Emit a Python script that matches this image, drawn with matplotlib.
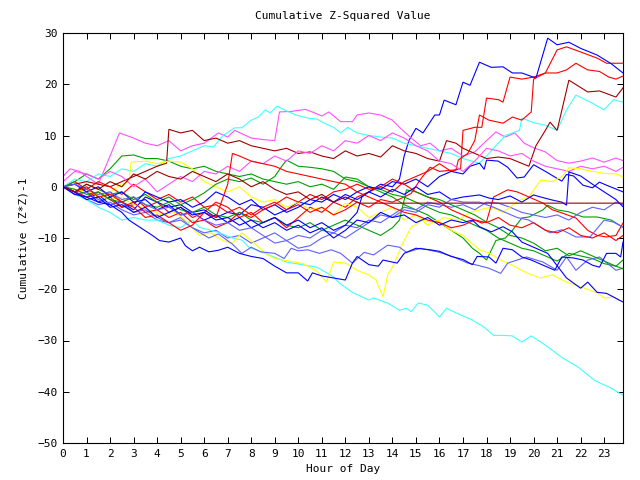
import matplotlib
matplotlib.use("Agg")
import matplotlib.pyplot as plt

# values: (hour, cumulative (z*z)-1)
blue_top = [(0, 0), (0.5, -1), (1, -2), (1.5, -1.5), (2, -3.5), (2.5, -3), (3, -4.5), (3.5, -2), (4, -3), (4.5, -4),
            (5, -3.5), (5.5, -5), (6, -4.5), (6.5, -6), (7, -5), (7.5, -5.5), (8, -3.5), (8.5, -4), (9, -5.5),
            (9.5, -4.5), (10, -3), (10.5, -3.5), (11, -2), (11.5, -3), (12, -1.5), (12.5, -2.5), (13, -1),
            (13.5, 0.5), (14, 0), (14.3, 1.5), (14.5, 6), (14.7, 9), (15, 11.4), (15.3, 10.5), (15.8, 14), (16, 14),
            (16.2, 16.9), (16.7, 16), (17, 20.4), (17.3, 19.8), (17.7, 24.3), (18.2, 23.3), (18.7, 23.4),
            (19.1, 22.2), (19.5, 22.2), (20.1, 21.2), (20.6, 29), (21, 27.7), (21.5, 28.2), (22, 27), (22.7, 25.7),
            (23.3, 24), (23.8, 22.2)]
blue_mid = [(0, 0), (0.5, -1.5), (1, -1), (1.5, -3), (2, -2), (2.5, -4), (3, -3.5), (3.5, -1), (4, -2), (4.5, -3),
            (5, -2.5), (5.5, -4), (6, -3), (6.5, -1), (7, -2), (7.5, -3.5), (8, -2.5), (8.5, -4.5), (9, -3.5),
            (9.5, -5), (10, -4), (10.5, -2.5), (11, -3), (11.5, -1.5), (12, -2.5), (12.5, -1), (13, 0), (13.5, -0.5),
            (14, 1), (14.5, 0.5), (15, 1.5), (15.5, 0), (16, 2), (16.5, 3), (17, 2.5), (17.3, 4), (17.7, 4.6),
            (17.9, 3.4), (18, 5.2), (18.5, 5), (18.9, 3.8), (19.3, 1.7), (19.6, 1.9), (20, 4.3), (20.5, 3),
            (20.9, 1.9), (21.2, 1.1), (21.4, 2.4), (21.7, 2.1), (22.1, 0.3), (22.5, -0.2), (22.8, 0.9), (23.1, 0.3),
            (23.8, -1)]
blue_jump = [(0, 0), (0.5, 0.5), (1, -1), (1.5, 0), (2, -2), (2.5, -1), (3, -3), (3.5, -2.5), (4, -4.5), (4.5, -3.5),
             (5, -5.5), (5.5, -5), (6, -6.5), (6.5, -5.5), (7, -7), (7.5, -6), (8, -8), (8.5, -7), (9, -6),
             (9.5, -7.5), (10, -6.5), (10.5, -8), (11, -7), (11.5, -8.5), (12, -7.5), (12.5, -5), (12.7, -2),
             (13, -1), (13.5, -2), (14, -0.5), (14.5, -1.5), (15, 0), (15.5, -1.5), (16, -1), (16.5, -2.5), (17, -2),
             (17.7, -1.6), (18.1, -2.2), (18.5, -2.5), (19, -1.8), (19.5, -3), (20, -1.6), (20.3, -2), (20.8, -2.6),
             (21.2, -3), (21.4, -3.6), (21.5, 2.9), (22, 2.1), (22.5, 0.5), (23, -1), (23.5, -2.5), (23.8, -3.9)]
blue_low = [(0, 0), (0.5, -1.5), (1, -2), (1.5, -3), (2, -3.5), (2.5, -5), (2.8, -6.5), (3.3, -8), (3.8, -9.5),
            (4.1, -10.5), (4.5, -10.8), (5, -10), (5.2, -11.5), (5.5, -12.5), (5.8, -11.8), (6.2, -12.7),
            (6.6, -12.4), (7, -11.8), (7.5, -13), (8, -13.6), (8.5, -14), (9, -15.5), (9.5, -16.8), (10, -16.8),
            (10.4, -18.4), (10.6, -16.8), (11, -17.4), (11.5, -17.8), (12, -18.2), (12.3, -14.9), (12.5, -13.6),
            (13, -15.2), (13.4, -15.5), (13.6, -14.3), (14.2, -14.9), (14.5, -13), (15, -12), (15.6, -12.3),
            (16, -12.6), (16.5, -13.6), (17, -14.2), (17.4, -15.2), (17.6, -13.6), (18.1, -13.7), (18.4, -14.9),
            (18.7, -12), (19.1, -12.3), (19.5, -13.7), (19.9, -14.3), (20.9, -16.3), (21.2, -13.7), (21.7, -13.9),
            (22.1, -14.3), (22.5, -15.3), (22.8, -15.7), (23.1, -13), (23.5, -13), (23.7, -13.7), (23.8, -10.8)]
blue_bottom = [(0, 0), (0.5, -1), (1, -2.5), (1.5, -2), (2, -4), (2.5, -3.5), (3, -5), (3.5, -4), (4, -6), (4.5, -5),
               (5, -4), (5.5, -5.5), (6, -5), (6.5, -6.5), (7, -6), (7.5, -7.5), (8, -6.5), (8.5, -8), (9, -7),
               (9.5, -8.5), (10, -7.5), (10.5, -9), (11, -8), (11.5, -10), (12, -8.5), (12.5, -6.5), (13, -7),
               (13.5, -5), (14, -6), (14.5, -5.5), (15, -7), (15.5, -6), (16, -7.5), (16.5, -6.5), (17, -7),
               (17.4, -6.5), (17.7, -7.8), (18.2, -8.8), (18.7, -7.8), (19.1, -8.8), (19.5, -10.8), (20.6, -13),
               (21.4, -17.8), (22, -19.8), (22.3, -18.6), (22.7, -20.6), (23.1, -20.8), (23.8, -22.5)]
lblue_a = [(0, 0), (0.5, -1), (1, -2.5), (1.5, -3.5), (2, -3), (2.5, -4.5), (3, -5.5), (3.5, -5), (4, -6.5), (4.5, -7),
           (5, -6), (5.5, -8), (6, -9), (6.5, -8.5), (7, -10), (7.5, -9.5), (8, -11), (8.5, -10), (9, -9),
           (9.5, -10.5), (10, -9.5), (10.5, -10), (11, -8.5), (11.5, -9), (12, -7.5), (12.5, -8), (13, -6.5),
           (13.5, -7), (14, -5.5), (14.5, -4), (15, -4.5), (15.5, -3), (16, -3.5), (16.5, -4), (17, -3.5),
           (17.5, -4.5), (18, -3), (18.5, -3.2), (19, -4), (19.5, -5), (20, -5.5), (20.5, -6), (21, -5.5),
           (21.5, -6.5), (22, -5), (22.5, -4), (23, -4.5), (23.5, -3), (23.8, -3.5)]
lblue_b = [(0, 0), (0.5, -1.5), (1, -1), (1.5, -2.5), (2, -3.5), (2.5, -3), (3, -5), (3.5, -4.5), (4, -6), (4.5, -7),
           (5, -6.5), (5.5, -8), (5.8, -8.9), (6.2, -10), (6.6, -9.2), (7.2, -11.2), (7.6, -13), (8, -11.8),
           (8.4, -12.7), (9, -13), (9.4, -14), (9.7, -12), (10, -12.5), (10.4, -12.3), (10.9, -13), (11.4, -12.3),
           (11.8, -13), (12.3, -14.9), (12.8, -12.8), (13.2, -13.3), (13.8, -11.4), (14.3, -11.8), (14.6, -12.8),
           (15.2, -12), (15.5, -12.3), (16, -12.8), (16.6, -13.7), (17.2, -14.9), (17.6, -15.3), (18.1, -15.9),
           (18.6, -16.9), (18.9, -14.9), (19.7, -13.7), (20.4, -14.7), (21, -16.3), (21.4, -13.7), (21.8, -16.3),
           (22.3, -14.3), (22.8, -13.7), (23.5, -16.3), (23.8, -15.9)]
lblue_c = [(0, 0), (0.5, 0.5), (1, -0.5), (1.5, -1.5), (2, -1), (2.5, -2.5), (3, -2), (3.5, -3.5), (4, -4.5), (4.5, -4),
           (5, -5.5), (5.5, -5), (6, -6.5), (6.5, -7.5), (7, -7), (7.5, -8.5), (8, -8), (8.5, -9.5), (9, -11),
           (9.5, -10.5), (10, -12), (10.5, -11.5), (11, -10), (11.5, -9), (12, -10), (12.5, -8.5), (13, -7),
           (13.5, -5.5), (14, -6), (14.5, -4.5), (15, -5), (15.5, -3.5), (16, -4), (16.5, -2.5), (17, -3),
           (17.7, -3), (18.3, -4), (18.8, -5), (19.3, -6), (19.8, -6.5), (20.7, -9), (21.2, -8.4), (21.8, -9.8),
           (22.4, -9.8), (23, -6.5), (23.4, -6.9), (23.8, -7.9)]
red_top = [(0, 0), (0.5, 1), (1, -0.5), (1.5, -2), (2, -1), (2.5, -3), (3, -2), (3.5, -4), (4, -3), (4.5, -5), (5, -4),
           (5.5, -6), (6, -5), (6.5, -3), (7, -4), (7.5, -6), (8, -5), (8.5, -7), (9, -6), (9.5, -8), (10, -6),
           (10.5, -4), (11, -5), (11.5, -3), (12, -4), (12.5, -2), (13, -1), (13.5, 0), (14, -1), (14.5, 1), (15, 2),
           (15.5, 3), (16, 4.5), (16.5, 3), (16.9, 3.6), (17, 11), (17.5, 11.6), (17.8, 11.6), (18, 17.3),
           (18.5, 17), (18.7, 16.5), (19, 21.4), (19.5, 21), (20, 21.4), (20.5, 22.2), (21, 26.7), (21.4, 27.3),
           (22, 26.3), (22.7, 25.1), (23.1, 24.1), (23.8, 24.1)]
red_second = [(0, 0), (0.5, -1), (1, -0.5), (1.5, 1), (2, 0), (2.5, -1.5), (3, 0.5), (3.5, -1), (4, -2.5),
              (4.5, -1.5), (5, -3), (5.5, -2), (6, -4), (6.5, -3.5), (7, -5), (7.5, -4), (8, -5.5), (8.5, -4),
              (9, -3), (9.5, -4.5), (10, -3.5), (10.5, -5), (11, -4), (11.5, -5.5), (12, -4.5), (12.5, -3), (13, -4),
              (13.5, -2.5), (14, -3), (14.5, -2), (14.8, -1.3), (15.2, 1.5), (15.6, 3.8), (16, 3), (16.7, 3.3),
              (16.8, 5.2), (17.2, 6.5), (17.5, 9), (17.7, 14), (18.1, 13), (18.7, 12.4), (19.1, 13.6), (19.5, 13),
              (19.9, 14.6), (20, 21), (20.5, 22.2), (21, 22.2), (21.4, 22.8), (21.8, 24.1), (22.3, 22.8),
              (22.8, 22.5), (23.2, 21.4), (23.5, 21), (23.8, 21.6)]
red_u = [(0, 0), (0.5, -1), (1, -2), (1.5, -1), (2, -2.5), (2.5, -4), (3, -3), (3.5, -5), (4, -4.5), (4.5, -6),
         (5, -5), (5.5, -7), (6, -6.5), (6.5, -8), (7, -7), (7.5, -5), (8, -6), (8.5, -4.5), (9, -3.5), (9.5, -2),
         (10, -3), (10.5, -1.5), (11, -2.5), (11.5, -1), (12, -0.5), (12.5, 0.5), (13, -0.5), (13.5, 0), (14, 1.5),
         (14.5, 0.5), (15, -1), (15.5, -2), (16, -3), (16.5, -4.5), (17, -5.5), (17.5, -6.5), (17.8, -7.1),
         (18, -6.8), (18.3, -2), (18.9, -0.6), (19.3, -1), (19.8, -2), (20.4, -3.2), (20.8, -4.5), (21.2, -5.1),
         (21.8, -6.1), (22.3, -8.5), (22.7, -9.5), (23.1, -9.8), (23.5, -9.5), (23.7, -7.9), (23.8, -7.1)]
red_jump = [(0, 0), (0.5, -1), (1, 0), (1.5, -2), (2, -1.5), (2.5, -3), (3, -4), (3.5, -6), (4, -5.5), (4.5, -7),
            (5, -8.5), (5.5, -7.5), (6, -5), (6.5, -6), (7, 0.5), (7.2, 6.5), (7.5, 6), (8, 5), (8.5, 4.5), (9, 4),
            (9.5, 3), (10, 2.5), (10.5, 2), (11, 1.5), (11.5, 1), (12, 0.5), (12.5, -1), (13, -2), (13.5, -3),
            (14, -4), (14.5, -5), (15, -5.5), (15.5, -6.5), (16, -7), (16.5, -8), (17, -7.5), (17.5, -6.5),
            (18, -7), (18.5, -6), (19, -7.5), (19.5, -8), (20, -7), (20.5, -8.5), (21, -9), (21.5, -8),
            (22, -9.5), (22.5, -10), (23, -9), (23.5, -10.5), (23.8, -9.5)]
dred_top = [(0, 0), (1, 1), (2, 0), (3, 2), (4, 4), (4.4, 4.6), (4.5, 11.2), (5, 10.5), (5.5, 11), (6, 9),
            (6.5, 9.5), (7, 8.5), (7.5, 9), (8, 8), (8.5, 7.5), (9, 7), (9.5, 7.5), (10, 6.5), (10.5, 6.8), (11, 6),
            (11.5, 5.5), (12, 7), (12.5, 6), (13, 6.5), (13.5, 5.8), (14, 8), (14.5, 7), (15, 6.5), (15.5, 5.5),
            (16, 5), (16.3, 9), (16.7, 8.5), (17, 7.5), (17.5, 6.5), (18, 5.5), (18.5, 5.8), (19, 5.5), (19.8, 4),
            (20.1, 8), (20.5, 11), (20.7, 12.6), (21, 11), (21.5, 20.8), (22.3, 18.5), (22.8, 18.7), (23.5, 17.5),
            (23.8, 19.3)]
dred_flat = [(0, 0), (0.5, -1), (1, 0.5), (1.5, -0.5), (2, 1), (2.5, 0), (3, 2.5), (3.5, 1.5), (4, 3), (4.5, 2),
             (5, 1.5), (5.5, 3), (6, 2), (6.5, 1), (7, 2.5), (7.5, 1.5), (8, 0), (8.5, 1), (9, -0.5), (9.5, -1.5),
             (10, -1), (10.5, -2.5), (11, -1.5), (11.5, -3), (12, -2), (12.6, -3.2), (23.8, -3.2)]
cyan_top = [(0, 0), (0.5, 1.5), (1, 1), (1.5, 2.5), (2, 2), (2.5, 3.5), (3, 3), (3.5, 4.5), (4, 4), (4.5, 5.5),
            (5, 6), (5.5, 7), (6, 8), (6.4, 7.8), (6.8, 10), (7.3, 11.5), (7.6, 11.5), (8, 13), (8.3, 13.6),
            (8.6, 15), (8.8, 14.4), (9.1, 15.7), (9.6, 14.6), (9.9, 14), (10.4, 13.4), (10.8, 13.2), (11.1, 12.4),
            (11.5, 11.6), (11.8, 10.5), (12.1, 11.6), (12.5, 10.5), (13, 10), (13.5, 9.7), (14, 9.5), (14.5, 8.5),
            (15, 8), (15.5, 7.5), (16, 7), (16.5, 6.5), (17, 5.5), (17.7, 4.6), (18.1, 6.5), (18.4, 8), (18.8, 10),
            (19.4, 11), (19.5, 13.4), (20, 12.5), (20.5, 12), (21, 11), (21.4, 15), (21.8, 17.9), (22.5, 16.3),
            (23, 15), (23.4, 17), (23.8, 16.5)]
cyan_down = [(0, 0), (0.5, -1.5), (1, -2.5), (1.5, -4), (2, -5), (2.5, -6.5), (3, -6), (3.5, -6.5), (4, -6.5),
             (4.5, -7.5), (5, -8), (5.3, -7), (5.5, -6.5), (5.8, -7.9), (6.6, -8.9), (7.2, -10), (7.6, -10.4),
             (7.9, -11.8), (8.6, -13), (9.5, -14.7), (10.8, -15.7), (11.5, -17.6), (11.75, -18.8), (12.3, -20.6),
             (13, -22.1), (13.2, -21.7), (13.8, -22.7), (14.3, -24.1), (14.6, -23.7), (14.8, -24.4), (15.1, -22.7),
             (15.5, -23.1), (16, -25.4), (16.3, -23.7), (16.7, -24.6), (17.4, -26), (17.9, -27.4), (18.3, -29),
             (18.7, -29), (19.1, -29.1), (19.5, -30.3), (19.9, -29.1), (20.5, -30.9), (21.2, -33.3), (21.9, -35.2),
             (22.6, -37.8), (23.3, -39.3), (23.8, -40.7)]
magenta_top = [(0, 2), (0.3, 3.5), (0.7, 3), (1, 2), (1.5, 0.5), (2, 6), (2.4, 10.5), (3, 9.5), (3.5, 8.5), (4, 8),
               (4.5, 9), (5, 7), (5.5, 8), (6, 8.5), (6.6, 10.5), (7, 9.7), (7.3, 11), (8, 9.5), (8.5, 9.2),
               (9, 9), (9.2, 14.6), (9.7, 14.7), (10.3, 15.1), (10.7, 14.4), (11, 13.8), (11.3, 14.6),
               (11.8, 12.7), (12.3, 12.7), (12.5, 14), (13, 14.4), (13.5, 14), (14, 13), (14.3, 11.6), (14.8, 9.5),
               (15.2, 8), (15.6, 8.5), (16, 7), (16.5, 7.5), (17, 6), (17.5, 6.8), (18, 9), (18.4, 10.7),
               (18.8, 9.7), (19.2, 10.5), (19.6, 8.5), (20, 7.6), (20.5, 6.8), (21, 5.1), (21.5, 4.6), (22, 5),
               (22.5, 5.6), (23, 4.8), (23.5, 5.6), (23.8, 5.1)]
magenta_low = [(0, 1), (0.5, 3), (1, 2.5), (1.5, 1.5), (2, 3), (2.5, 2), (3, 0), (3.5, 1.5), (4, -1), (4.5, 0.5),
               (5, 2), (5.5, 1), (6, 3), (6.5, 2.5), (7, 4), (7.5, 3), (8, 5), (8.5, 4.5), (9, 6), (9.5, 5), (10, 7),
               (10.5, 6.5), (11, 8), (11.5, 7), (12, 9), (12.5, 8.5), (13, 10), (13.5, 9), (14, 10.5), (14.5, 9.5),
               (15, 8), (15.5, 7), (16, 5), (16.5, 4.5), (17, 3), (17.5, 5), (18, 7.5), (18.5, 7), (19, 6),
               (19.5, 6.5), (20, 5), (20.5, 4), (21, 3.5), (21.5, 3), (22, 4), (22.5, 3.5), (23, 4), (23.5, 3),
               (23.8, 3.8)]
yellow_early = [(0, 0), (0.5, -1), (1, -0.5), (1.5, -2), (2, -1), (2.5, 0.5), (2.8, 1), (2.9, 4.8), (3.5, 5),
                (4, 4.5), (4.5, 5), (5, 4.8), (5.5, 3.5), (6, 1), (6.5, 0), (7, -1), (7.5, 0), (8, -2), (8.5, -3),
                (9, -2.5), (9.5, -4), (10, -3), (10.5, -4.5), (11, -4), (11.5, -5.5), (12, -3.2), (12.5, -4),
                (13, -6), (13.5, -5), (14, -4), (14.5, -6.5), (15, -5.5), (15.5, -7.5), (15.9, -6.5), (16.5, -8.5),
                (17, -9.5), (17.7, -12.3), (18.1, -12.9), (18.6, -14.3), (19.1, -15.3), (19.7, -16.8),
                (20.3, -17.8), (20.8, -17.2), (21.4, -18.6), (22, -19.5), (22.7, -20.7), (23, -21.7), (23.4, -21.5),
                (23.8, -22.5)]
yellow_dip = [(0, 0.3), (0.5, -0.5), (1, -1), (1.5, -1.6), (2, -2.5), (2.5, -2), (3, -3.5), (3.7, -4.5),
              (4.2, -5.5), (4.8, -5), (5.3, -7), (5.8, -9.5), (6.3, -9), (6.8, -10.5), (7.2, -11), (7.6, -9),
              (8, -10.5), (8.6, -13), (9, -14), (9.6, -14.5), (10.2, -15), (10.8, -16.5), (11.2, -18.6),
              (11.5, -14.7), (12, -14.9), (12.5, -16.3), (13, -17.2), (13.3, -18.2), (13.6, -21.5), (13.8, -17.2),
              (14, -15.7), (14.5, -10.4), (14.8, -7.9), (15.3, -6.5), (15.8, -7), (16.2, -6), (16.8, -6.5),
              (17.3, -5), (17.7, -4.5), (18.2, -4), (18.7, -5), (19.4, -2.6), (19.8, -2), (20.3, 1.3), (20.8, 1),
              (21.2, 2), (21.5, 3.7), (22, 3.5), (22.5, 3), (23, 2.6), (23.5, 2.5), (23.8, 1.9)]
green_a = [(0, 0), (0.5, 1), (1, 2.5), (1.5, 1.5), (2, 3.5), (2.5, 6), (3, 6.2), (3.5, 5.5), (4, 5.5), (4.5, 5),
           (5, 4), (5.5, 3.5), (6, 4), (6.5, 3), (7, 2.5), (7.5, 2), (8, 2.5), (8.5, 1.5), (9, 1), (9.5, 0.5),
           (10, 1), (10.5, 0), (11, 0.5), (11.5, -0.5), (12, 1.9), (12.5, 1.5), (13, 0), (13.5, -1), (14, -2),
           (14.5, -3.5), (15, -4.5), (15.5, -5.5), (16, -7), (16.5, -8.5), (17, -10), (17.4, -12), (17.7, -13),
           (18, -14.3), (18.4, -10.5), (18.8, -10), (19.1, -8.5), (19.5, -6.1), (19.8, -5.9), (20.4, -4.5),
           (20.6, -3.6), (21, -4.5), (21.5, -4.9), (22.1, -5.9), (22.7, -5.9), (23.3, -6.5), (23.8, -7.9)]
green_b = [(0, 0), (0.5, -1), (1, 0.5), (1.5, -0.5), (2, -1.5), (2.5, -1), (3, -2.5), (3.5, -1.5), (4, -3), (4.5, -2),
           (5, -3.5), (5.5, -2.5), (6, -1.2), (6.5, 0.5), (7, 1.5), (7.5, 1), (8, 1.7), (8.5, 0.5), (9, 2), (9.3, 4),
           (9.5, 5.2), (10, 4), (10.5, 3.8), (11, 3.5), (11.5, 3), (12, 1.5), (12.5, 1), (13, 0), (13.5, -0.5),
           (14, -1.5), (14.5, -2), (15, -3), (15.5, -4), (16, -5), (16.5, -5.5), (17, -6.5), (17.5, -7.5), (18, -8.5),
           (18.5, -10), (19, -11), (19.5, -12), (20, -12.5), (20.5, -13.5), (21, -14.5), (21.5, -13), (22, -13.5),
           (22.5, -14), (23, -15), (23.5, -15.5), (23.8, -14.3)]
green_c = [(0, 0), (0.5, -0.5), (1, -1.5), (1.5, -1), (2, -2.5), (2.5, -3), (3, -2), (3.5, -3.5), (4, -4), (4.5, -3),
           (5, -4.5), (5.5, -5), (6, -4), (6.5, -5.5), (7, -6), (7.5, -5), (8, -6.5), (8.5, -7), (9, -6), (9.5, -7.5),
           (10, -8), (10.5, -7), (11, -8.5), (11.5, -7.5), (12, -6.5), (12.5, -7.5), (13, -8.5), (13.5, -9.5),
           (14, -8), (14.3, -6.5), (14.6, -0.6), (15, -1), (15.5, -2), (16, -2.5), (16.5, -3.5), (17, -4.5),
           (17.5, -5.5), (18, -6.9), (18.5, -8), (19, -9.5), (19.5, -10), (20, -11), (20.5, -12.5), (21, -12),
           (21.5, -13.5), (22, -12.5), (22.5, -13.5), (23, -14.5), (23.5, -15.5), (23.8, -16)]

RED, DRED, GREEN, BLUE = "#ff0000", "#a00000", "#00a000", "#0000ff"
MAGENTA, CYAN, YELLOW, LBLUE = "#ff50ff", "#40ffff", "#ffff00", "#6060ff"

series = [
    (red_top, RED), (green_a, GREEN), (blue_top, BLUE), (magenta_top, MAGENTA), (cyan_top, CYAN),
    (dred_top, DRED), (yellow_early, YELLOW), (lblue_a, LBLUE), (red_second, RED), (green_b, GREEN),
    (blue_mid, BLUE), (magenta_low, MAGENTA), (cyan_down, CYAN), (yellow_dip, YELLOW), (lblue_b, LBLUE),
    (red_u, RED), (green_c, GREEN), (blue_jump, BLUE), (lblue_c, LBLUE), (red_jump, RED),
    (blue_low, BLUE), (blue_bottom, BLUE), (dred_flat, DRED),
]

plt.rcParams["font.family"] = "DejaVu Sans Mono"
plt.rcParams["font.size"] = 8

fig = plt.figure(figsize=(6.4, 4.8), dpi=100)
ax = fig.add_axes([63 / 640, 1 - 443 / 480, 560 / 640, 410 / 480])

# thin lines, close to the one-pixel gnuplot traces
for pts, color in series:
    xs = [p[0] for p in pts]
    ys = [p[1] for p in pts]
    ax.plot(xs, ys, color=color, linewidth=0.8, antialiased=True, solid_joinstyle="miter")

ax.set_xlim(0, 23.8)
ax.set_ylim(-50, 30)
ax.set_xticks(range(0, 24))
ax.set_yticks(range(-50, 31, 10))
ax.tick_params(direction="in", length=4, width=0.72, top=True, right=True, pad=4, labelsize=8)
for sp in ax.spines.values():
    sp.set_linewidth(0.8)

ax.set_title("Cumulative Z-Squared Value", fontsize=8, pad=10)
ax.set_xlabel("Hour of Day", fontsize=8, labelpad=4)
ax.set_ylabel("Cumulative (Z*Z)-1", fontsize=8, labelpad=6)

fig.savefig("out.png", dpi=100)
